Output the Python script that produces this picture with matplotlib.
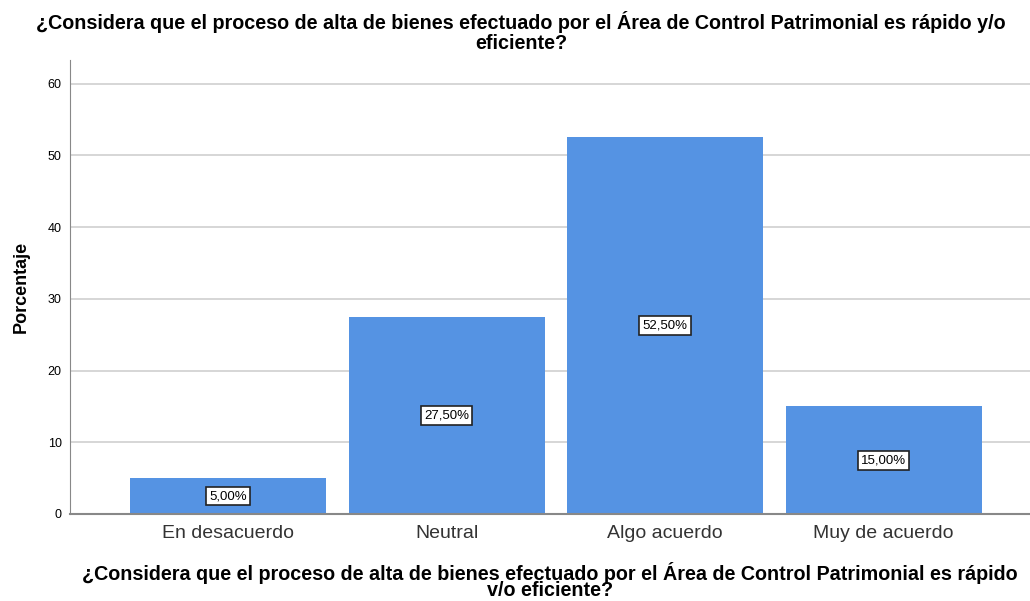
import matplotlib
matplotlib.use("Agg")
import matplotlib.pyplot as plt

categories = ["En desacuerdo", "Neutral", "Algo acuerdo", "Muy de acuerdo"]
values = [5.0, 27.5, 52.5, 15.0]
labels = ["5,00%", "27,50%", "52,50%", "15,00%"]
yticks = [0, 10, 20, 30, 40, 50, 60]

plt.rcParams['font.family'] = ['Liberation Sans', 'DejaVu Sans']

fig = plt.figure(figsize=(10.30, 6.01), dpi=100)
ax = fig.add_axes([70/1030, 1-514/601, 960/1030, (514-60)/601])

x = list(range(len(categories)))
ax.bar(x, values, width=0.897, color="#5593E3", zorder=2)
ax.set_xlim(-0.723, 3.67)
ax.set_ylim(0, 63.3)
ax.set_yticks(yticks)
ax.set_yticklabels([str(t) for t in yticks], fontsize=9)
ax.set_xticks(x)
ax.set_xticklabels(categories, fontsize=14, color="#333333")
ax.tick_params(axis='x', length=0, pad=8)
ax.tick_params(axis='y', length=0, pad=6)
ax.yaxis.grid(True, color="#d0d0d0", linewidth=1.2, zorder=0)
ax.set_axisbelow(True)
for s in ["top", "right"]:
    ax.spines[s].set_visible(False)
ax.spines["left"].set_color("#888888")
ax.spines["bottom"].set_color("#888888")
ax.spines["bottom"].set_linewidth(1.5)

for xi, v, lab in zip(x, values, labels):
    ax.text(xi, v/2, lab, ha="center", va="center", fontsize=9.5,
            bbox=dict(boxstyle="square,pad=0.25", fc="white", ec="#222222", lw=1.2), zorder=3)

ax.set_ylabel("Porcentaje", fontsize=13, fontweight="bold", labelpad=13)
ax.set_xlabel("¿Considera que el proceso de alta de bienes efectuado por el Área de Control Patrimonial es rápido\nv/o eficiente?",
              fontsize=14.2, fontweight="bold", linespacing=0.85, labelpad=14)
fig.text(0.506, 0.982, "¿Considera que el proceso de alta de bienes efectuado por el Área de Control Patrimonial es rápido y/o\neficiente?",
         ha="center", va="top", fontsize=14.2, fontweight="bold", linespacing=1.1)

fig.savefig("out.png", dpi=100)
